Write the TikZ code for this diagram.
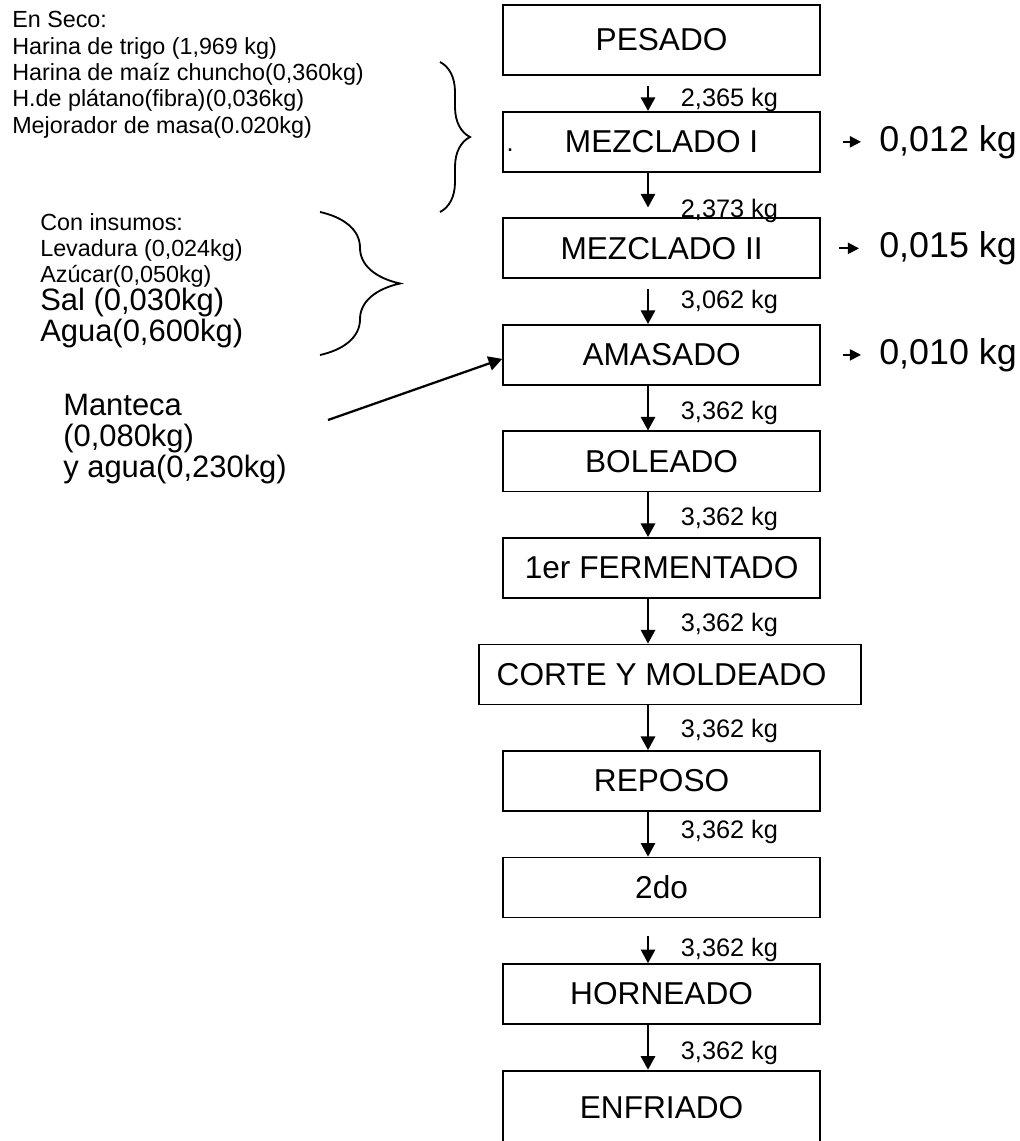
\documentclass[tikz,border=0pt]{standalone}
\usepackage{fontspec}
\setmainfont{Liberation Sans}
\usetikzlibrary{arrows.meta,positioning,decorations.pathreplacing}
\tikzset{
stepbox/.style={draw,line width=1.3pt,minimum width=7.925cm,minimum height=1.5cm,inner sep=0pt,font=\fontsize{22.5}{26}\selectfont},
flow/.style={-{Triangle[length=3.4mm,width=3.6mm]},line width=1.3pt},
massnote/.style={font=\fontsize{18}{20}\selectfont,inner sep=0pt},
loss/.style={font=\fontsize{25.5}{28}\selectfont,inner sep=0pt},
lossflow/.style={-{Triangle[length=2.8mm,width=2.8mm]},line width=1.3pt},
inputs/.style={align=left,inner sep=0pt,anchor=north west},
bracket/.style={decorate,decoration={brace,amplitude=#1},line width=1.3pt}
}
\begin{document}
\begin{tikzpicture}[node distance=1.1175cm]
\useasboundingbox (0,0) rectangle (25.475,-28.525);
% etapas del proceso
\node[stepbox,minimum height=1.75cm] (pesado) at (16.54,-1.0) {PESADO};
\node[stepbox,below=0.875cm of pesado] (mezcla1) {MEZCLADO I};
\node[stepbox,below=of mezcla1] (mezcla2) {MEZCLADO II};
\node[stepbox,below=of mezcla2] (amasado) {AMASADO};
\node[stepbox,below=of amasado] (boleado) {BOLEADO};
\node[stepbox,below=of boleado] (ferment1) {1er FERMENTADO};
\node[stepbox,below=of ferment1,xshift=0.21cm,minimum width=9.55cm] (corte) {CORTE Y MOLDEADO\hspace*{0.42cm}};
\node[stepbox,below=of corte,xshift=-0.21cm] (reposo) {REPOSO};
\node[stepbox,below=of reposo] (ferment2) {2do};
\node[stepbox,below=of ferment2] (horneado) {HORNEADO};
\node[stepbox,below=of horneado,minimum height=1.85cm] (enfriado) {ENFRIADO};
\node[font=\fontsize{18}{18}\selectfont,inner sep=0pt] (punto) at ([xshift=0.2cm,yshift=-0.2cm]mezcla1.west) {.};
% flujo de masa
\draw[flow,shorten <=0.25cm] ([xshift=-0.34cm]pesado.south) -- node[massnote,pos=0.7,right=0.8cm]{2,365 kg} ([xshift=-0.34cm]mezcla1.north);
\draw[flow,shorten >=0.25cm] ([xshift=-0.34cm]mezcla1.south) -- node[massnote,pos=0.85,right=0.8cm]{2,373 kg} ([xshift=-0.34cm]mezcla2.north);
\draw[flow,shorten <=0.25cm] ([xshift=-0.34cm]mezcla2.south) -- node[massnote,pos=0.5,right=0.8cm]{3,062 kg} ([xshift=-0.34cm]amasado.north);
\draw[flow] ([xshift=-0.34cm]amasado.south) -- node[massnote,pos=0.6,right=0.8cm]{3,362 kg} ([xshift=-0.34cm]boleado.north);
\draw[flow] ([xshift=-0.34cm]boleado.south) -- node[massnote,pos=0.6,right=0.8cm]{3,362 kg} ([xshift=-0.34cm]ferment1.north);
\draw[flow] ([xshift=-0.34cm]ferment1.south) -- node[massnote,pos=0.58,right=0.8cm]{3,362 kg} ([xshift=-0.34cm]ferment1.south |- corte.north);
\draw[flow] ([xshift=-0.34cm]reposo.north |- corte.south) -- node[massnote,pos=0.58,right=0.8cm]{3,362 kg} ([xshift=-0.34cm]reposo.north);
\draw[flow] ([xshift=-0.34cm]reposo.south) -- node[massnote,pos=0.45,right=0.8cm]{3,362 kg} ([xshift=-0.34cm]ferment2.north);
\draw[flow,shorten <=0.45cm] ([xshift=-0.34cm]ferment2.south) -- node[massnote,pos=0.7,right=0.8cm]{3,362 kg} ([xshift=-0.34cm]horneado.north);
\draw[flow] ([xshift=-0.34cm]horneado.south) -- node[massnote,pos=0.62,right=0.8cm]{3,362 kg} ([xshift=-0.34cm]enfriado.north);
% perdidas
\node[loss,right=1.45cm of mezcla1] (perdida1) {0,012 kg};
\node[loss,right=1.45cm of mezcla2] (perdida2) {0,015 kg};
\node[loss,right=1.45cm of amasado] (perdida3) {0,010 kg};
\draw[lossflow] ([xshift=-0.9cm]perdida1.west) -- ([xshift=-0.45cm]perdida1.west);
\draw[lossflow] ([xshift=-1cm]perdida2.west) -- ([xshift=-0.5cm]perdida2.west);
\draw[lossflow] ([xshift=-0.9cm]perdida3.west) -- ([xshift=-0.45cm]perdida3.west);
% insumos
\node[inputs,font=\fontsize{16.6}{18.8}\selectfont] (seco) at (0.3,-0.275) {En Seco:\\Harina de trigo (1,969 kg)\\Harina de maíz chuncho(0,360kg)\\H.de plátano(fibra)(0,036kg)\\Mejorador de masa(0.020kg)};
\draw[bracket=0.75cm] (11.0,-1.55) -- (11.0,-5.3);
\node[inputs,font=\fontsize{16.6}{18.5}\selectfont] (insumos) at (1.0,-5.325) {Con insumos:\\Levadura (0,024kg)\\Azúcar(0,050kg)\\{\fontsize{22}{20}\selectfont Sal (0,030kg)}\\{\fontsize{22}{20}\selectfont Agua(0,600kg)}};
\draw[bracket=2cm] (8.0,-5.3) -- (8.0,-8.875);
\node[inputs,font=\fontsize{22}{22}\selectfont] (manteca) at (1.575,-9.85) {Manteca\\(0,080kg)\\y agua(0,230kg)};
\coordinate (mtail) at (8.2,-10.5);
\draw[flow,line width=1.6pt] (mtail) -- ([yshift=-0.1cm]amasado.west);
\end{tikzpicture}
\end{document}
